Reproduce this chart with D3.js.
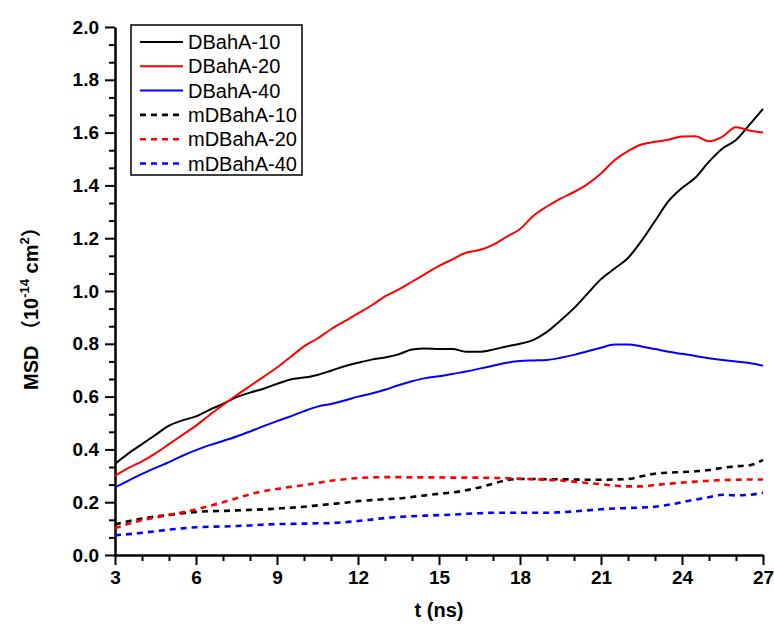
<!DOCTYPE html>
<html>
<head>
<meta charset="utf-8">
<script src="https://cdn.jsdelivr.net/npm/d3@7"></script>
<style>
  body { margin: 0; background: #fff; }
  svg text { font-family: "Liberation Sans", Arial, sans-serif; }
</style>
</head>
<body>
<div id="chart"></div>
<script>
// time axis (ns), every 0.5 ns
var times = d3.range(3, 27.01, 0.5);

var dbaha10 = [0.345,0.385,0.42,0.455,0.49,0.51,0.525,0.55,0.572,0.598,0.615,0.63,0.648,0.665,0.672,0.682,0.698,0.715,0.728,0.74,0.748,0.76,0.778,0.782,0.78,0.78,0.77,0.77,0.778,0.79,0.8,0.815,0.845,0.888,0.935,0.99,1.045,1.085,1.125,1.19,1.265,1.34,1.39,1.43,1.49,1.54,1.572,1.63,1.69];
var dbaha20 = [0.30,0.33,0.355,0.385,0.42,0.455,0.49,0.53,0.568,0.605,0.64,0.675,0.71,0.75,0.79,0.82,0.855,0.885,0.915,0.945,0.98,1.005,1.035,1.065,1.095,1.12,1.145,1.155,1.175,1.205,1.235,1.285,1.32,1.35,1.375,1.405,1.445,1.495,1.53,1.555,1.565,1.573,1.585,1.586,1.567,1.585,1.62,1.608,1.6];
var dbaha40 = [0.256,0.282,0.307,0.33,0.352,0.376,0.397,0.416,0.432,0.449,0.468,0.488,0.507,0.525,0.545,0.562,0.572,0.585,0.6,0.612,0.626,0.643,0.658,0.67,0.677,0.686,0.695,0.706,0.717,0.728,0.735,0.737,0.739,0.747,0.758,0.772,0.785,0.797,0.797,0.79,0.78,0.77,0.762,0.754,0.745,0.739,0.733,0.727,0.717];
var mdbaha10 = [0.116,0.128,0.138,0.146,0.152,0.158,0.163,0.166,0.167,0.169,0.171,0.173,0.176,0.179,0.183,0.188,0.193,0.198,0.204,0.208,0.211,0.214,0.22,0.226,0.232,0.237,0.245,0.256,0.27,0.283,0.288,0.288,0.287,0.287,0.286,0.285,0.285,0.286,0.288,0.298,0.308,0.312,0.314,0.317,0.322,0.33,0.336,0.34,0.36];
var mdbaha20 = [0.101,0.118,0.132,0.142,0.152,0.162,0.173,0.186,0.2,0.215,0.23,0.242,0.25,0.258,0.265,0.273,0.281,0.287,0.292,0.294,0.295,0.295,0.294,0.294,0.294,0.293,0.293,0.293,0.292,0.291,0.289,0.287,0.285,0.282,0.278,0.273,0.268,0.263,0.26,0.26,0.265,0.27,0.274,0.278,0.281,0.284,0.285,0.286,0.286];
var mdbaha40 = [0.075,0.079,0.084,0.09,0.096,0.101,0.105,0.107,0.108,0.11,0.112,0.115,0.117,0.118,0.119,0.12,0.121,0.124,0.129,0.134,0.14,0.144,0.147,0.149,0.151,0.153,0.156,0.158,0.16,0.16,0.16,0.16,0.16,0.162,0.165,0.169,0.173,0.176,0.178,0.18,0.183,0.19,0.2,0.21,0.219,0.228,0.226,0.228,0.236];

var names = ["DBahA-10","DBahA-20","DBahA-40","mDBahA-10","mDBahA-20","mDBahA-40"];
var colors = ["#000000","#ff0000","#0000ff","#000000","#ff0000","#0000ff"];
var dashed = [false,false,false,true,true,true];
var seriesValues = [dbaha10, dbaha20, dbaha40, mdbaha10, mdbaha20, mdbaha40];

var xTicks = [3,6,9,12,15,18,21,24,27];
var yTicks = [0,0.2,0.4,0.6,0.8,1.0,1.2,1.4,1.6,1.8,2.0];

var width = 774,
  height = 630;
var margin = {left: 115, top: 27, right: 11, bottom: 75};

var svg = d3.select('#chart').append('svg')
  .attr('width', width)
  .attr('height', height);

var x = d3.scaleLinear().domain([3, 27]).range([margin.left, width - margin.right]);
var y = d3.scaleLinear().domain([0, 2]).range([height - margin.bottom, margin.top]);

// minor ticks first, then majors on top
var xMinor = d3.range(3, 27.01, 1).filter(function(d) { return xTicks.indexOf(d) < 0; });
var yMinor = d3.range(0, 30).map(function(i) { return i * 0.2 / 3; }).filter(function(d, i) { return i % 3 !== 0; });

svg.append("g")
  .attr("transform", "translate(0," + y(0) + ")")
  .call(d3.axisBottom(x).tickValues(xMinor).tickSize(6).tickFormat(""))
  .call(function(g) { g.select(".domain").remove(); g.selectAll("line").attr("stroke-width", 2); });

svg.append("g")
  .attr("transform", "translate(" + x(3) + ",0)")
  .call(d3.axisLeft(y).tickValues(yMinor).tickSize(6).tickFormat(""))
  .call(function(g) { g.select(".domain").remove(); g.selectAll("line").attr("stroke-width", 2); });

var xAxis = svg.append("g")
  .attr("transform", "translate(0," + y(0) + ")")
  .call(d3.axisBottom(x).tickValues(xTicks).tickSize(10).tickSizeOuter(0).tickPadding(6));
xAxis.select(".domain").attr("stroke-width", 2.5);
xAxis.selectAll("line").attr("stroke-width", 2);
xAxis.selectAll("text")
  .style("font-size", "19px")
  .style("font-weight", "bold")
  .attr("fill", "#000");

var yAxis = svg.append("g")
  .attr("transform", "translate(" + x(3) + ",0)")
  .call(d3.axisLeft(y).tickValues(yTicks).tickSize(10).tickSizeOuter(0).tickPadding(6).tickFormat(d3.format(".1f")));
yAxis.select(".domain").attr("stroke-width", 2.5);
yAxis.selectAll("line").attr("stroke-width", 2);
yAxis.selectAll("text")
  .style("font-size", "19px")
  .style("font-weight", "bold")
  .attr("fill", "#000");

// lines
var line = d3.line()
  .x(function(d) { return x(d[0]); })
  .y(function(d) { return y(d[1]); })
  .curve(d3.curveMonotoneX);

seriesValues.forEach(function(vals, i) {
  svg.append("path")
    .datum(times.map(function(t, j) { return [t, vals[j]]; }))
    .attr("d", line)
    .attr("fill", "none")
    .attr("stroke", colors[i])
    .attr("stroke-width", dashed[i] ? 2.6 : 2)
    .attr("stroke-dasharray", dashed[i] ? "6,5" : null);
});

// axis titles
svg.append("text")
  .text("t (ns)")
  .attr("x", (x(3) + x(27)) / 2)
  .attr("y", 617)
  .attr("text-anchor", "middle")
  .style("font-size", "20px")
  .style("font-weight", "bold");

var yTitle = svg.append("text")
  .attr("transform", "translate(38,390) rotate(-90)")
  .attr("text-anchor", "start")
  .style("font-size", "20px")
  .style("font-weight", "bold");
yTitle.append("tspan").text("MSD ");
yTitle.append("tspan").text("（").style("font-family", "'Noto Sans CJK SC'");
yTitle.append("tspan").text("10");
yTitle.append("tspan").text("-14").attr("dy", -9).style("font-size", "13px");
yTitle.append("tspan").text(" cm").attr("dy", 9);
yTitle.append("tspan").text("2").attr("dy", -9).style("font-size", "13px");
yTitle.append("tspan").text("）").attr("dy", 9).style("font-family", "'Noto Sans CJK SC'");

// legend
var legend = svg.append("g");
legend.append("rect")
  .attr("x", 131)
  .attr("y", 25)
  .attr("width", 171)
  .attr("height", 150)
  .attr("fill", "#fff")
  .attr("stroke", "#000")
  .attr("stroke-width", 1.5);

names.forEach(function(name, i) {
  var cy = 42 + i * 24.3;
  legend.append("line")
    .attr("x1", 140)
    .attr("x2", 183)
    .attr("y1", cy)
    .attr("y2", cy)
    .attr("stroke", colors[i])
    .attr("stroke-width", dashed[i] ? 2.6 : 2)
    .attr("stroke-dasharray", dashed[i] ? "6,5" : null);
  legend.append("text")
    .text(name)
    .attr("x", 188)
    .attr("y", cy + 7)
    .style("font-size", "20px");
});
</script>
</body>
</html>
